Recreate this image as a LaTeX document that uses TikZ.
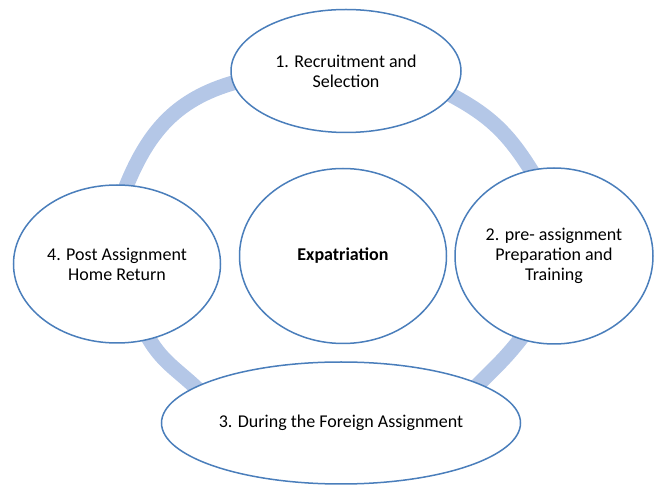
\documentclass[tikz,border=0pt]{standalone}
\usepackage{fontspec}
\setmainfont{Carlito}
\usetikzlibrary{shapes.geometric}
\usetikzlibrary{backgrounds}
\definecolor{stageblue}{RGB}{74,126,187}
\definecolor{ringblue}{RGB}{180,199,231}

\begin{document}
\begin{tikzpicture}[x=1pt, y=1pt,
		stage/.style={ellipse, draw=stageblue, line width=1.5pt, fill=white, inner sep=0pt,
			align=center, font=\fontsize{18}{20}\selectfont},
		ring/.style={draw=ringblue, line width=15pt, shorten <=-10pt, shorten >=-10pt}]
			\useasboundingbox (0,0) rectangle (657,485);

			% the four stages and the centre
			\node[stage, minimum width=230pt, minimum height=123pt] (recruit) at (346,414) {1. Recruitment and\\Selection};
			\node[stage, minimum width=198pt, minimum height=176pt] (prep) at (554,229) {2. pre- assignment\\Preparation and\\Training};
			\node[stage, minimum width=359pt, minimum height=122pt] (foreign) at (341,62) {3. During the Foreign Assignment};
			\node[stage, minimum width=207pt, minimum height=158pt] (home) at (117,221) {4. Post Assignment\\Home Return};
			\node[stage, minimum width=207pt, minimum height=175pt] (expat) at (343,229) {\bfseries Expatriation};

			% ring behind the stages
			\begin{scope}[on background layer]
				\draw[ring] (home.83) to[out=69, in=194] (recruit.186);
				\draw[ring] (recruit.347) to[out=-27, in=121] (prep.105);
				\draw[ring] (prep.248) to[out=233, in=45] (foreign.16);
				\draw[ring] (home.293) to[out=-63, in=135] (foreign.166);
			\end{scope}
		\end{tikzpicture}
\end{document}
